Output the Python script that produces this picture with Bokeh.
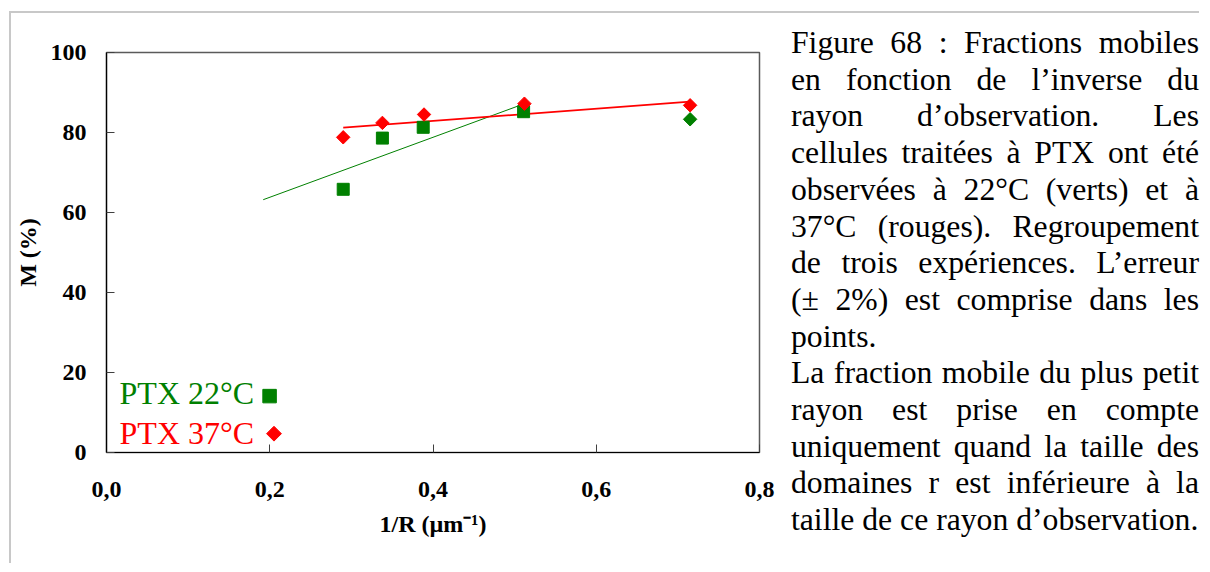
from bokeh.plotting import figure
from bokeh.models import Range1d, FixedTicker, Label, Div
from bokeh.layouts import row
from bokeh.embed import file_html
from bokeh.resources import INLINE
import math

# ---------------- data ----------------
ptx22_x = [0.290, 0.338, 0.388, 0.511]
ptx22_y = [65.8, 78.6, 81.3, 85.2]
ptx22_extra_x = [0.715]          # 22°C point drawn as a diamond
ptx22_extra_y = [83.3]
ptx37_x = [0.290, 0.338, 0.389, 0.512, 0.715]
ptx37_y = [78.8, 82.4, 84.5, 87.2, 86.8]
fit22_x = [0.192, 0.512]
fit22_y = [63.2, 87.2]
fit37_x = [0.290, 0.715]
fit37_y = [81.2, 87.7]
x_ticks = [0.0, 0.2, 0.4, 0.6, 0.8]
x_tick_labels = ["0,0", "0,2", "0,4", "0,6", "0,8"]
y_ticks = [0, 20, 40, 60, 80, 100]
legend_labels = ["PTX 22°C", "PTX 37°C"]
caption_lines = [
    "Figure 68\u00a0: Fractions mobiles",
    "en fonction de l\u2019inverse du",
    "rayon d\u2019observation. Les",
    "cellules traitées à PTX ont été",
    "observées à 22°C (verts) et à",
    "37°C (rouges). Regroupement",
    "de trois expériences. L\u2019erreur",
    "(±\u00a02%) est comprise dans les",
    "points.",
    "La fraction mobile du plus petit",
    "rayon est prise en compte",
    "uniquement quand la taille des",
    "domaines r est inférieure à la",
    "taille de ce rayon d\u2019observation.",
]
caption_unjustified = {"points.", "taille de ce rayon d\u2019observation."}

GREEN = "#008000"
RED = "#ff0000"
SERIF = "Liberation Serif"
FRAME_GREY = "#c8c8c8"

p = figure(width=770, height=540, output_backend="svg", toolbar_location=None,
           x_range=Range1d(0, 0.8), y_range=Range1d(0, 100),
           min_border_left=90, min_border_right=22, min_border_top=39, min_border_bottom=101)
p.background_fill_color = "white"
p.border_fill_color = "white"
p.outline_line_color = "#5a5a5a"
p.outline_line_width = 1.5
p.xgrid.visible = False
p.ygrid.visible = False

for ax in (p.xaxis[0], p.yaxis[0]):
    ax.axis_line_color = "black"
    ax.axis_line_width = 1.2
    ax.major_tick_in = 8
    ax.major_tick_out = 0
    ax.major_tick_line_color = "#404040"
    ax.minor_tick_line_color = None
    ax.major_label_text_font = SERIF
    ax.major_label_text_font_style = "bold"
    ax.major_label_text_font_size = "24px"
    ax.major_label_text_color = "black"
    ax.axis_label_text_font = SERIF
    ax.axis_label_text_font_style = "bold"
    ax.axis_label_text_font_size = "24px"
    ax.axis_label_text_color = "black"

p.xaxis.ticker = FixedTicker(ticks=x_ticks)
p.xaxis.major_label_overrides = {t: l for t, l in zip(x_ticks, x_tick_labels)}
p.xaxis.major_label_standoff = 29
p.xaxis.axis_label = "1/R (µm\u207b\u00b9)"
p.xaxis.axis_label_standoff = 11

p.yaxis.ticker = FixedTicker(ticks=y_ticks)
p.yaxis.major_label_standoff = 20
p.yaxis.axis_label = "M (%)"
p.yaxis.axis_label_standoff = 7

# trend lines
p.line(fit22_x, fit22_y, line_color=GREEN, line_width=1)
p.line(fit37_x, fit37_y, line_color=RED, line_width=1.7)

# points
p.scatter(ptx22_x, ptx22_y, marker="square", size=12, fill_color=GREEN, line_color=GREEN, line_width=1)
p.scatter(ptx22_extra_x, ptx22_extra_y, marker="square", angle=math.pi / 4, size=9.5,
          fill_color=GREEN, line_color=GREEN, line_width=1)
p.scatter(ptx37_x, ptx37_y, marker="square", angle=math.pi / 4, size=9.5,
          fill_color=RED, line_color=RED, line_width=1)

# legend (text left of its marker)
LEG_TEXT_X = 0.0160
LEG_MID_Y = [14.95, 4.83]
LEG_MARK_X = [0.1998, 0.2052]
LEG_MARK_Y = [14.1, 4.7]
for lab, col, my in zip(legend_labels, [GREEN, RED], LEG_MID_Y):
    p.add_layout(Label(x=LEG_TEXT_X, y=my, text=lab, text_font=SERIF, text_font_size="32px",
                       text_color=col, text_baseline="middle", text_align="left"))
p.scatter([LEG_MARK_X[0]], [LEG_MARK_Y[0]], marker="square", size=13.5,
          fill_color=GREEN, line_color=GREEN, line_width=1)
p.scatter([LEG_MARK_X[1]], [LEG_MARK_Y[1]], marker="square", angle=math.pi / 4, size=10.5,
          fill_color=RED, line_color=RED, line_width=1)

# caption
parts = []
for ln in caption_lines:
    if ln in caption_unjustified:
        st = "text-align:left;white-space:nowrap"
    else:
        st = "text-align:justify;text-align-last:justify"
    parts.append(f'<div style="{st}">{ln}</div>')
html = ('<div style="box-sizing:content-box;width:408px;font-family:\'Liberation Serif\';font-size:31.7px;'
        'line-height:36.7px;color:#000;padding-top:7px;padding-left:5px;margin:0">'
        + "".join(parts) + "</div>")
div = Div(text=html, width=420, height=540)

layout = row(p, div, width=1190,
             styles={"border-top": f"2px solid {FRAME_GREY}", "border-left": f"2px solid {FRAME_GREY}",
                     "margin-left": "9px", "margin-top": "11px"})

open("out.html", "w").write(file_html(layout, INLINE))
